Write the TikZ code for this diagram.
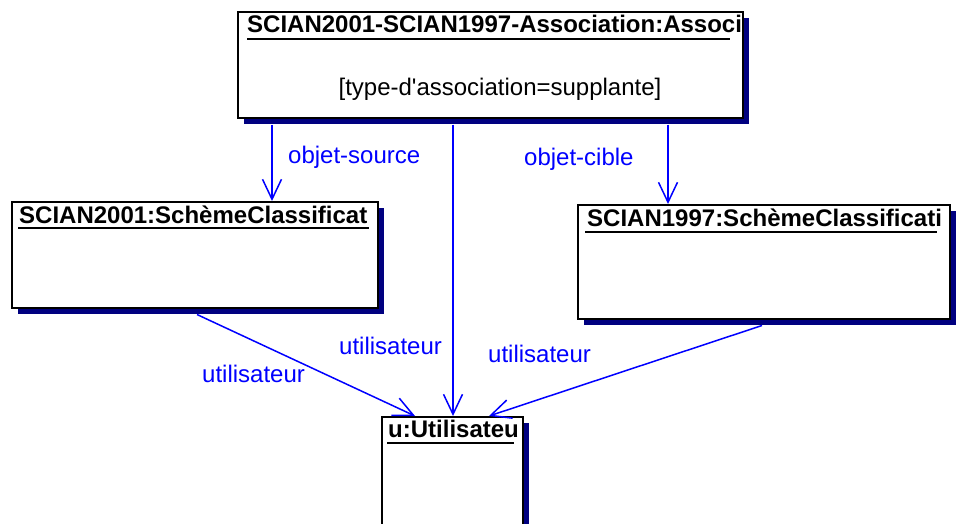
\documentclass[tikz,border=0pt]{standalone}
\usepackage{fontspec}
\setmainfont{Liberation Sans}
\usetikzlibrary{arrows.meta,shadows}
\definecolor{shadownavy}{RGB}{0,0,128}
\definecolor{linkblue}{RGB}{0,0,255}
\tikzset{
  objbox/.style={rectangle, draw=black, line width=1.5pt, fill=white, inner sep=0pt,
    anchor=north west,
    drop shadow={shadow xshift=6pt, shadow yshift=-6pt, fill=shadownavy, opacity=1}},
  objtitle/.style={anchor=base west, inner sep=0pt,
    font=\fontsize{24}{28}\selectfont\bfseries},
  attrtext/.style={anchor=base, inner sep=0pt, font=\fontsize{24}{28}\selectfont},
  rolelabel/.style={anchor=base west, inner sep=0pt, text=linkblue,
    font=\fontsize{24}{28}\selectfont},
  link/.style={draw=linkblue, line width=1.5pt,
    -{Straight Barb[length=20pt,width=19pt,line width=1.5pt]}},
  uline/.style={draw=black, line width=1.5pt},
}
\begin{document}
\begin{tikzpicture}[x=1pt, y=-1pt]
\useasboundingbox (0,0) rectangle (960,523);

% object boxes
\node[objbox, minimum width=505pt, minimum height=106pt] (assoc) at (237,11) {};
\node[objbox, minimum width=366pt, minimum height=106pt] (cls01) at (11,201) {};
\node[objbox, minimum width=372pt, minimum height=114pt] (cls97) at (577,204) {};
\node[objbox, minimum width=141pt, minimum height=114pt] (user) at (381,416) {};

% titles, cut off at the right border of their box
\begin{scope}
  \clip (assoc.north west) rectangle (assoc.south east);
  \node[objtitle] (assoctitle) at (247,32) {SCIAN2001-SCIAN1997-Association:Associ};
\end{scope}
\draw[uline] (247,39) -- (730,39);
\node[attrtext] (assocattr) at (500,95) {[type-d\textquotesingle association=supplante]};

\begin{scope}
  \clip (cls01.north west) rectangle (cls01.south east);
  \node[objtitle] (cls01title) at (19,223) {SCIAN2001:SchèmeClassificat};
\end{scope}
\draw[uline] (18,228) -- (369,228);

\begin{scope}
  \clip (cls97.north west) rectangle (cls97.south east);
  \node[objtitle] (cls97title) at (587,226) {SCIAN1997:SchèmeClassificati};
\end{scope}
\draw[uline] (585,232) -- (937,232);

\begin{scope}
  \clip (user.north west) rectangle (user.south east);
  \node[objtitle] (usertitle) at (388,437) {u:Utilisateu};
\end{scope}
\draw[uline] (387,443) -- (514,443);

% links
\coordinate (srcstart) at ([xshift=35pt,yshift=-6pt]assoc.south west);
\coordinate (tgtstart) at ([xshift=431pt,yshift=-6pt]assoc.south west);
\coordinate (midstart) at ([xshift=216pt,yshift=-6pt]assoc.south west);
\draw[link] (srcstart) -- (srcstart |- cls01.north);
\draw[link] (tgtstart) -- (tgtstart |- cls97.north);
\draw[link] (midstart) -- (midstart |- user.north);
\draw[link] ([xshift=186pt,yshift=-6pt]cls01.south west) -- ([xshift=34pt]user.north west);
\draw[link] ([xshift=185pt,yshift=-6pt]cls97.south west) -- ([xshift=108pt]user.north west);

% role labels
\node[rolelabel] (lblsrc) at (288,163) {objet-source};
\node[rolelabel] (lbltgt) at (524,165) {objet-cible};
\node[rolelabel] (lblmid) at (339,354) {utilisateur};
\node[rolelabel] (lblleft) at (202,382) {utilisateur};
\node[rolelabel] (lblright) at (488,362) {utilisateur};
\end{tikzpicture}
\end{document}
